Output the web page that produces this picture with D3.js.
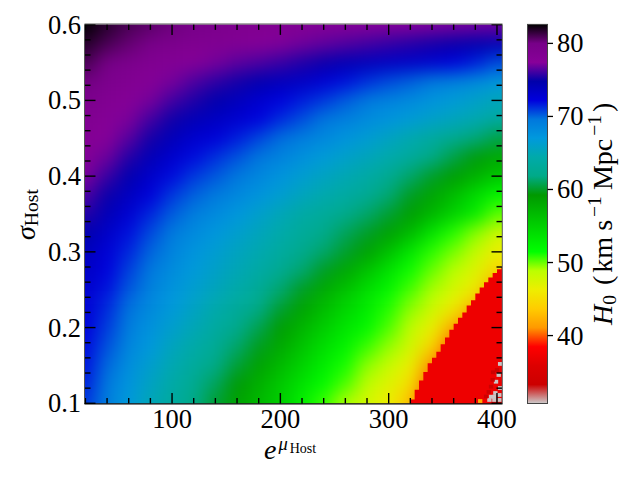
<!DOCTYPE html>
<html><head><meta charset="utf-8">
<style>html,body{margin:0;padding:0;background:#fff}svg{display:block}text{font-family:"Liberation Serif",serif;fill:#000}</style>
<script src="https://cdn.jsdelivr.net/npm/d3@7/dist/d3.min.js"></script></head><body>
<svg id="c" width="640" height="480"></svg>
<script>
const muValues=[20,40,60,80,100,120,140,160,180,200,220,240,260,280,300,320,340,360,380,400];
const sigmaValues=[0.6,0.575,0.55,0.525,0.5,0.475,0.45,0.425,0.4,0.375,0.35,0.325,0.3,0.275,0.25,0.225,0.2,0.175,0.15,0.125,0.1];
const h0Grid=[
[82.6,81.7,81,80.6,80.2,79.9,79.4,79,78.8,78.5,78.3,78,77.8,77.6,77.5,77.4,77.3,77.2,77.1,77],
[81.8,81,80.4,79.7,79.2,78.8,78.5,78.1,77.7,77.3,77,76.7,76.4,76.1,75.8,75.5,75.2,74.95,74.7,74.3],
[81,80,79.2,78.7,78.2,77.7,77.1,76.6,76.3,75.9,75.4,75,74.4,74,73.6,73.3,72.9,72.3,71.6,70.6],
[80.1,79.2,78.6,77.9,77.1,76.3,75.7,75.2,74.6,74,73.5,72.7,71.9,71.2,70.6,70.1,69.4,68.8,68,67.1],
[79.2,78.5,77.9,77.1,76.1,75.4,74.7,73.9,73,72.2,71.6,71,70.2,69.4,68.7,68.1,67.4,66.7,66,65.2],
[78.6,77.9,77.2,76.1,75.1,74.2,73.6,72.9,72.2,71.3,70.5,69.6,68.9,68.1,67.4,66.7,66,65.4,64.8,63.9],
[78.1,77.5,76.5,75.2,74.1,73,72.4,71.6,70.7,69.8,69,68.3,67.4,66.5,65.6,64.6,63.5,62.5,61.6,60.6],
[77.8,76.9,75.5,74.2,73,72,71.2,70.4,69.6,68.7,67.7,66.8,66,65.3,64.5,63.5,62,60.6,59.4,58],
[77.2,75.9,74.6,73.2,72,71,70.3,69.5,68.5,67.4,66.4,65.6,64.9,64,62.7,61.3,60,59,57.5,55.8],
[76.3,75,73.7,72.3,71,70.1,69.3,68.4,67.4,66.4,65.4,64.6,63.8,62.9,61.5,59.9,58.4,56.5,54.1,52.1],
[75.5,74.2,72.8,71.4,70.2,69.1,68.2,67.2,66.1,65.1,64,63.2,62.3,61.3,60.2,58.9,57,55,52.8,50.2],
[74.7,73.3,71.9,70.6,69.3,68.2,67.2,66.2,65.3,64.4,63.2,62.2,61,60,58.8,56.7,53.5,51,49.6,47.8],
[73.9,72.6,71.4,70,68.6,67.4,66.4,65.5,64.7,63.6,62.4,61.3,60.1,58.7,56.2,53.3,50.9,49.8,48.3,46.4],
[73.4,72.2,70.8,69.4,68,66.9,65.9,65,64,62.7,61.4,59.9,58.2,56,53.6,51.3,50,48.8,47.2,44.5],
[73,71.8,70.3,68.8,67.4,66.3,65.3,64.3,63,61.4,59.9,58,56.1,54,52.1,50.5,49.1,47.6,46,41],
[72.6,71.3,69.7,68.2,66.9,65.7,64.5,63.2,61.9,60.2,58.5,56.5,54.6,52.8,51,49.5,47.9,46,42,40],
[72.3,70.9,69.1,67.6,66.2,65,63.7,62.4,60.8,59,57.1,55.3,53.4,51.9,50.4,48.6,46.5,42,40,40],
[72,70.4,68.5,67,65.4,64.2,62.9,61.3,59.8,58,56,54,52.3,50.7,49.4,47.7,44.5,40,39,39],
[71.8,69.9,67.9,66.2,64.8,63.4,61.9,60.3,58.6,56.7,54.8,52.8,51.2,49.5,48.2,46.4,41,39,39,39],
[71.5,69.4,67.4,65.6,64.1,62.6,61,59.3,57.5,55.6,53.6,51.8,50.4,48.6,47.1,45,40,39,39,39],
[71,69,66.9,65.1,63.6,62,60.2,58.5,56.9,55.2,52.6,50.7,49,47.6,46.2,43,39,39,39,39]
];
const redEdgeMu=[320,324,328,332,336,340,344,348,352,356,360,364,368,372,376,380,384,388,392,396,400,404,405];
const redEdgeSigma=[0.105,0.118,0.13,0.1415,0.153,0.16,0.168,0.178,0.187,0.197,0.205,0.213,0.22,0.229,0.236,0.245,0.253,0.26,0.266,0.272,0.277,0.28,0.28];
const redValue=37.2;
const noiseMu=[401.6,399.1,402.9,398.5,394.5,402.2,402.2,397.6,393,397.6,402.9,394.5,396,392.4,389.9,400,396.4,384.5];
const noiseSigma=[0.1374,0.1285,0.1202,0.1136,0.1087,0.111,0.1044,0.1044,0.1044,0.1087,0.152,0.122,0.131,0.115,0.109,0.144,0.141,0.103];
const noiseH0=[30.8,30.8,30.8,30.8,30.8,30.8,30.8,30.8,30.8,30.8,30.8,33.5,33.5,33.5,33.5,33.5,33.5,42];
const xMajor=[100,200,300,400];
const yMajor=[0.1,0.2,0.3,0.4,0.5,0.6];
const cbTicks=[40,50,60,70,80];
const vMin=30.7,vMax=82.6;
const cmapColors=["#000000","#770088","#880099","#0000aa","#0000dd","#0077dd","#0099dd","#00aaaa","#00aa88","#009900","#00bb00","#00dd00","#00ff00","#bbff00","#eeee00","#ffcc00","#ff9900","#ff0000","#dd0000","#cc0000","#cccccc"];

const svg=d3.select("#c");
const L=85,R=502,T=24.4,B=403.5;
const x=d3.scaleLinear().domain([20,405]).range([85.4,502.4]);
const y=d3.scaleLinear().domain([0.1,0.6]).range([403.3,24.7]);
const color=d3.scaleLinear().domain(cmapColors.map((c,i)=>vMax-(vMax-vMin)*i/(cmapColors.length-1))).range(cmapColors).clamp(true);

const defs=svg.append("defs");
defs.append("clipPath").attr("id","plot").append("rect").attr("x",L).attr("y",T).attr("width",R-L).attr("height",B-T);
const f=defs.append("filter").attr("id","soft").attr("filterUnits","userSpaceOnUse").attr("x",-100).attr("y",-100).attr("width",840).attr("height",680).attr("color-interpolation-filters","sRGB");
f.append("feGaussianBlur").attr("stdDeviation",9);

const plot=svg.append("g").attr("clip-path","url(#plot)");
const cells=plot.append("g").attr("filter","url(#soft)");
sigmaValues.forEach((s,r)=>muValues.forEach((m,c)=>{
  let x0=x(m-10),x1=x(m+10),y0=y(s+0.0125),y1=y(s-0.0125);
  if(c===0)x0-=50; if(c===muValues.length-1)x1+=50;
  if(r===0)y0-=50; if(r===sigmaValues.length-1)y1+=50;
  cells.append("rect").attr("x",x0).attr("y",y0).attr("width",x1-x0+0.6).attr("height",y1-y0+0.6).attr("fill",color(h0Grid[r][c]));
}));
const edge=d3.area().x((d,i)=>x(redEdgeMu[i])).y0(y(0.1)+3).y1((d,i)=>y(redEdgeSigma[i])).curve(d3.curveStepAfter);
plot.append("path").attr("d",edge(redEdgeMu)).attr("fill",color(redValue));
noiseMu.forEach((m,i)=>plot.append("rect").attr("x",x(m-2)).attr("y",y(noiseSigma[i]+0.0025)).attr("width",x(m+2)-x(m-2)).attr("height",y(0.1)-y(0.105)).attr("fill",color(noiseH0[i])));

function tick(g,x1,y1,x2,y2,w){g.append("line").attr("x1",x1).attr("y1",y1).attr("x2",x2).attr("y2",y2).attr("stroke","#000").attr("stroke-width",w);}
const ax=svg.append("g");
d3.range(20,405,20).forEach(v=>{const len=xMajor.includes(v)?10.5:5.5;const p=x(v);
  tick(ax,p,B,p,B-len,1.4);tick(ax,p,T,p,T+len,1.4);});
d3.range(0,26).map(i=>0.1+i*0.02).forEach(v=>{const maj=yMajor.some(t=>Math.abs(t-v)<1e-6),len=maj?10.5:5.5;const p=y(v);
  tick(ax,L,p,L+len,p,1.4);tick(ax,R,p,R-len,p,1.4);});
tick(ax,84.5,T,84.5,B+.5,1);
tick(ax,84.5,403.8,502.5,403.8,1.2);
tick(ax,502.3,T,502.3,B+.5,1);
tick(ax,84.5,24,502.5,24,1);
ax.selectAll("line").filter(function(){return +this.getAttribute("stroke-width")===1;}).attr("stroke","#555");
const FS=26.5,LS=28,SS=19.6;
xMajor.forEach(v=>svg.append("text").attr("x",x(v)).attr("y",427.5).attr("text-anchor","middle").attr("font-size",FS).text(v));
yMajor.forEach(v=>svg.append("text").attr("x",81).attr("y",y(v)+9).attr("text-anchor","end").attr("font-size",FS).text(v.toFixed(1)));

const xl=svg.append("text").attr("x",264).attr("y",458.5);
xl.append("tspan").attr("font-style","italic").attr("font-size",LS).text("e");
xl.append("tspan").attr("font-style","italic").attr("font-size",18.5).attr("dy",-8.5).attr("dx",2).text("μ");
xl.append("tspan").attr("font-size",14).attr("dy",2.5).attr("dx",2).text("Host");

const yl=svg.append("text").attr("transform","translate(35,240) rotate(-90)");
yl.append("tspan").attr("font-style","italic").attr("font-size",LS).text("σ");
yl.append("tspan").attr("font-size",SS).attr("dy",3).text("Host");

// colour bar
const cbX0=527.5,cbX1=547.5;
const cb=d3.scaleLinear().domain([vMin,vMax]).range([403.5,24.4]);
const grad=defs.append("linearGradient").attr("id","cbg").attr("x1",0).attr("y1",0).attr("x2",0).attr("y2",1);
cmapColors.forEach((c,i)=>grad.append("stop").attr("offset",i/(cmapColors.length-1)).attr("stop-color",c));
svg.append("rect").attr("x",cbX0).attr("y",cb(vMax)).attr("width",cbX1-cbX0).attr("height",cb(vMin)-cb(vMax)).attr("fill","url(#cbg)").attr("stroke","#444").attr("stroke-width",1);
cbTicks.forEach(v=>{tick(svg,cbX1,cb(v),cbX1+5.5,cb(v),1.3);
  svg.append("text").attr("x",557).attr("y",cb(v)+9).attr("font-size",FS).text(v);});
const cl=svg.append("text").attr("transform","translate(612,325) rotate(-90)");
cl.append("tspan").attr("font-style","italic").attr("font-size",LS).text("H");
cl.append("tspan").attr("font-size",SS).attr("dy",4).text("0");
cl.append("tspan").attr("font-size",LS).attr("dy",-4).attr("dx",10).text("(");
cl.append("tspan").attr("font-size",LS).attr("dx",3).text("km");
cl.append("tspan").attr("font-size",LS).attr("dx",6).text("s");
cl.append("tspan").attr("font-size",SS).attr("dy",-11).attr("dx",3).text("−1");
cl.append("tspan").attr("font-size",LS).attr("dy",11).attr("dx",6).text("Mpc");
cl.append("tspan").attr("font-size",SS).attr("dy",-11).attr("dx",3).text("−1");
cl.append("tspan").attr("font-size",LS).attr("dy",11).attr("dx",3).text(")");
</script></body></html>
